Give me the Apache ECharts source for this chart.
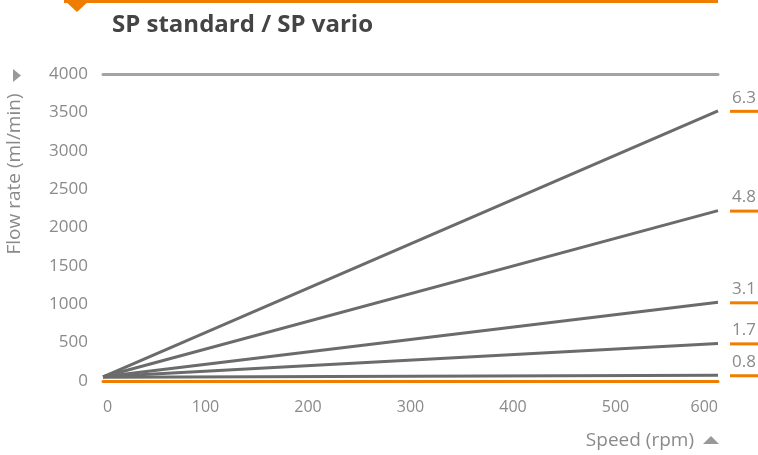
<!DOCTYPE html>
<html>
<head>
<meta charset="utf-8">
<script src="https://cdn.jsdelivr.net/npm/echarts@6/dist/echarts.min.js"></script>
<style>
  html, body { margin: 0; padding: 0; background: #fff; }
  #chart { width: 758px; height: 455px; }
</style>
</head>
<body>
<div id="chart"></div>
<script>
// speed (rpm) at the two ends of each line
const speeds = [0, 600]
// tube inner diameters (mm), one line each
const tubeSizes = ['6.3', '4.8', '3.1', '1.7', '0.8']
// flow rate (ml/min) at 0 rpm and at 600 rpm
const flowAtStart = [55, 55, 55, 55, 50]
const flowAtEnd = [3520, 2220, 1025, 490, 75]

const ORANGE = '#ef7d00'
const LINE_GRAY = '#6b6b6b'
const LABEL_GRAY = '#8a8a8a'
const FONT = '"Open Sans", sans-serif'

function getSeries() {
  return tubeSizes.map((name, i) => ({
    name: name,
    type: 'line',
    data: [[speeds[0], flowAtStart[i]], [speeds[1], flowAtEnd[i]]],
    symbol: 'none',
    animation: false,
    lineStyle: { color: LINE_GRAY, width: 3 },
    z: 3,
    endLabel: {
      show: true,
      distance: 12,
      align: 'left',
      verticalAlign: 'bottom',
      offset: [0, 2],
      formatter: p => '{t|' + p.seriesName + '}\n{u|}',
      rich: {
        t: { color: LABEL_GRAY, fontSize: 17, fontFamily: FONT, width: 28, align: 'center', lineHeight: 24 },
        u: { width: 28, height: 3, lineHeight: 3, backgroundColor: ORANGE }
      }
    }
  }))
}

function getOptions() {
  return {
    animation: false,
    grid: { left: 103, right: 40, top: 74, bottom: 74 },
    title: {
      text: 'SP standard / SP vario',
      left: 107,
      top: 8,
      textStyle: { color: '#444', fontSize: 24, fontWeight: 'bold', fontFamily: FONT }
    },
    xAxis: [
      {
        type: 'value',
        min: 0,
        max: 600,
        interval: 100,
        axisLine: { show: true, onZero: false, lineStyle: { color: ORANGE, width: 3 } },
        axisTick: { show: false },
        splitLine: { show: false },
        axisLabel: {
          color: LABEL_GRAY, fontSize: 16, fontFamily: FONT, margin: 18,
          alignMinLabel: 'left', alignMaxLabel: 'right'
        }
      },
      {
        type: 'value',
        position: 'top',
        min: 0,
        max: 600,
        axisLine: { show: true, onZero: false, lineStyle: { color: '#a3a3a3', width: 3 } },
        axisTick: { show: false },
        axisLabel: { show: false },
        splitLine: { show: false }
      }
    ],
    yAxis: {
      type: 'value',
      min: 0,
      max: 4000,
      interval: 500,
      axisLine: { show: false },
      axisTick: { show: false },
      splitLine: { show: false },
      axisLabel: {
        color: LABEL_GRAY, fontSize: 17, fontFamily: FONT, margin: 15,
        padding: [4, 0, 0, 0],
        formatter: v => String(v)
      }
    },
    graphic: [
      { type: 'rect', shape: { x: 64, y: 0, width: 654, height: 3 }, style: { fill: ORANGE } },
      { type: 'polygon', shape: { points: [[64, 0], [90, 0], [77, 12]] }, style: { fill: ORANGE } },
      { type: 'polygon', shape: { points: [[13, 69], [21, 75.5], [13, 82]] }, style: { fill: '#999' } },
      { type: 'polygon', shape: { points: [[703, 444], [711, 436], [719, 444]] }, style: { fill: '#999' } },
      {
        type: 'text', x: 15, y: 174, rotation: Math.PI / 2,
        style: {
          text: 'Flow rate (ml/min)', fill: LABEL_GRAY, fontSize: 19, fontFamily: FONT,
          align: 'center', verticalAlign: 'middle'
        }
      },
      {
        type: 'text', x: 694, y: 441,
        style: {
          text: 'Speed (rpm)', fill: LABEL_GRAY, fontSize: 19, fontFamily: FONT,
          align: 'right', verticalAlign: 'middle'
        }
      }
    ],
    series: getSeries()
  }
}

const myChart = echarts.init(document.getElementById('chart'))
myChart.setOption(getOptions())
</script>
</body>
</html>
